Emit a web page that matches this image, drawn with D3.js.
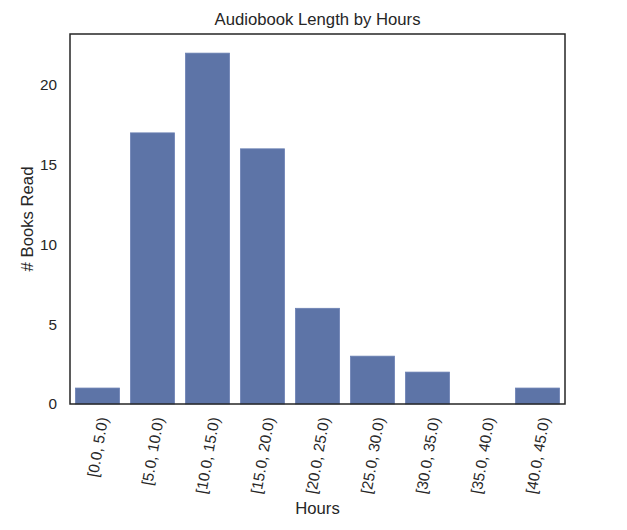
<!DOCTYPE html>
<html lang="en">
<head>
<meta charset="UTF-8" />
<title>Audiobook Length by Hours</title>
<script src="https://d3js.org/d3.v7.min.js"></script>
<style>
    body { margin: 0; background: #fff; }
    svg { display: block; }
    text { font-family: 'Liberation Sans', Arial, sans-serif; fill: #262626; }
    .tick-label { font-size: 15.3px; }
    .label { font-size: 16.7px; }
    .title { font-size: 16.7px; }
    .bar { fill: #5d74a7; stroke: #6b80b3; stroke-width: 0.8; }
</style>
</head>
<body>
<svg width="627" height="530"></svg>
<script>
    // hour buckets and counts
    const categories = ['[0.0, 5.0)', '[5.0, 10.0)', '[10.0, 15.0)', '[15.0, 20.0)', '[20.0, 25.0)',
                        '[25.0, 30.0)', '[30.0, 35.0)', '[35.0, 40.0)', '[40.0, 45.0)'];
    const counts = [1, 17, 22, 16, 6, 3, 2, 0, 1];
    const yTicks = [0, 5, 10, 15, 20];

    const svg = d3.select('svg');
    const plotLeft = 70, plotRight = 565, plotTop = 34, plotBottom = 404;
    const tickSize = 15.3;

    const xScale = d3.scaleBand()
      .domain(categories)
      .range([plotLeft, plotRight])
      .paddingInner(0.2)
      .paddingOuter(0.1);

    const yScale = d3.scaleLinear()
      .domain([0, 23.2])
      .range([plotBottom, plotTop]);

    // bars
    svg.selectAll('.bar')
      .data(categories.map((c, i) => ({ cat: c, n: counts[i] })))
      .enter()
      .append('rect')
      .attr('class', 'bar')
      .attr('x', (d) => xScale(d.cat))
      .attr('y', (d) => yScale(d.n))
      .attr('width', xScale.bandwidth())
      .attr('height', (d) => yScale(0) - yScale(d.n))
      .style('display', (d) => d.n > 0 ? null : 'none');

    // frame
    svg.append('rect')
      .attr('x', plotLeft)
      .attr('y', plotTop)
      .attr('width', plotRight - plotLeft)
      .attr('height', plotBottom - plotTop)
      .attr('fill', 'none')
      .attr('stroke', '#262626')
      .attr('stroke-width', 1.5);

    // y tick labels
    svg.selectAll('.ytick')
      .data(yTicks)
      .enter()
      .append('text')
      .attr('class', 'tick-label')
      .attr('x', plotLeft - 13)
      .attr('y', (d) => yScale(d))
      .attr('dy', '0.35em')
      .attr('text-anchor', 'end')
      .text((d) => d);

    // x tick labels, rotated 80deg, bbox centred on the tick
    const angle = 80 * Math.PI / 180;
    svg.selectAll('.xtick')
      .data(categories)
      .enter()
      .append('text')
      .attr('class', 'tick-label')
      .attr('text-anchor', 'middle')
      .attr('dominant-baseline', 'central')
      .text((d) => d)
      .each(function (d) {
        const len = this.getComputedTextLength();
        const h = len * Math.sin(angle) + tickSize * Math.cos(angle);
        const cx = xScale(d) + xScale.bandwidth() / 2;
        const cy = plotBottom + 12 + h / 2;
        d3.select(this).attr('transform', `translate(${cx}, ${cy}) rotate(-80)`);
      });

    // axis labels and title
    svg.append('text')
      .attr('class', 'label')
      .attr('x', (plotLeft + plotRight) / 2)
      .attr('y', 514)
      .attr('text-anchor', 'middle')
      .text('Hours');

    svg.append('text')
      .attr('class', 'label')
      .attr('transform', `translate(33, ${(plotTop + plotBottom) / 2}) rotate(-90)`)
      .attr('text-anchor', 'middle')
      .text('# Books Read');

    svg.append('text')
      .attr('class', 'title')
      .attr('x', (plotLeft + plotRight) / 2)
      .attr('y', 25)
      .attr('text-anchor', 'middle')
      .text('Audiobook Length by Hours');
</script>
</body>
</html>
